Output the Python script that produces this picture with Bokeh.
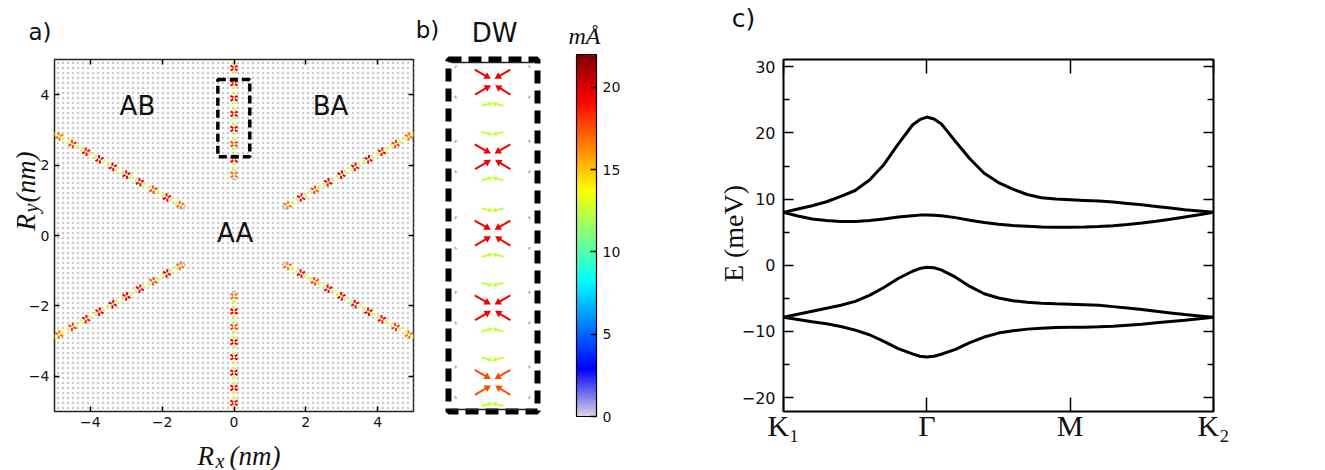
import numpy as np
from bokeh.plotting import figure
from bokeh.layouts import row
from bokeh.models import (ColumnDataSource, LinearColorMapper, ColorBar, Label,
                          BoxAnnotation, LinearAxis, FixedTicker, Range1d)
from bokeh.transform import transform
from bokeh.embed import file_html
from bokeh.resources import INLINE

# ---------------- data: panel c (band structure) ----------------
k_path = [0.0, 0.1, 0.2, 0.3, 0.4, 0.5, 0.6, 0.7, 0.8, 0.9, 0.95, 1.0, 1.05, 1.1, 1.2, 1.3, 1.4,
          1.5, 1.6, 1.7, 1.8, 1.9, 2.0, 2.1, 2.2, 2.3, 2.4, 2.5, 2.6, 2.7, 2.8, 2.9, 3.0]
band_1 = [8.0, 8.5, 9.0, 9.6, 10.4, 11.3, 12.9, 15.2, 18.3, 21.2, 22.0, 22.4, 22.1, 21.4, 18.7, 16.1, 13.9,
          12.5, 11.5, 10.7, 10.2, 10.0, 9.9, 9.8, 9.7, 9.55, 9.35, 9.15, 8.9, 8.65, 8.4, 8.2, 8.0]
band_2 = [8.0, 7.45, 7.0, 6.75, 6.6, 6.62, 6.75, 7.0, 7.3, 7.5, 7.58, 7.6, 7.57, 7.5, 7.2, 6.8, 6.45,
          6.2, 6.0, 5.9, 5.8, 5.75, 5.75, 5.78, 5.85, 5.98, 6.15, 6.38, 6.65, 6.95, 7.3, 7.65, 8.0]
band_3 = [-7.85, -7.4, -6.95, -6.5, -6.05, -5.45, -4.55, -3.35, -2.0, -0.9, -0.5, -0.3, -0.38, -0.7, -1.8, -3.2, -4.3,
          -4.95, -5.35, -5.6, -5.75, -5.82, -5.88, -5.95, -6.05, -6.25, -6.45, -6.7, -6.95, -7.2, -7.45, -7.65, -7.85]
band_4 = [-7.85, -8.2, -8.55, -8.85, -9.25, -9.8, -10.5, -11.5, -12.6, -13.4, -13.75, -13.85, -13.75, -13.45, -12.7, -11.7, -10.85,
          -10.25, -9.9, -9.65, -9.5, -9.42, -9.38, -9.35, -9.3, -9.2, -9.05, -8.9, -8.7, -8.5, -8.3, -8.08, -7.85]
k_ticks = [0, 1, 2, 3]
k_labels = ["K\u2081", "\u0393", "M", "K\u2082"]
e_ticks = [-20, -10, 0, 10, 20, 30]
e_minor_ticks = [-15, -5, 5, 15, 25]

# ---------------- data: panels a/b (current field along domain walls) ----------------
wall_angle_deg = [30, 90, 150, 210, 270, 330]
cross_dist = [1.73, 2.16, 2.60, 3.03, 3.46, 3.90, 4.33, 4.76, 5.20, 5.63]
cross_mag = [16.8, 19.3, 17.6, 19.5, 19.5, 19.5, 19.5, 19.0, 18.0, 16.8]
chev_out_mag = [12.6, 12.5, 12.5, 12.5, 12.5, 12.5, 12.5, 12.8, 13.3, 13.8]
chev_in_mag = [0.5, 12.6, 12.5, 12.5, 12.5, 12.5, 12.5, 12.5, 13.0, 13.5]
gray_mag = 0.5
# arrow motif of one vortex pair (u across the wall, v along the wall, nm)
cross_u0 = [-0.100, 0.100, -0.098, 0.100]
cross_v0 = [0.068, 0.068, -0.075, -0.075]
cross_u1 = [-0.020, 0.022, -0.019, 0.025]
cross_v1 = [0.022, 0.022, -0.028, -0.028]
chev_offset = 0.132
chev_u0 = [-0.062, 0.062]
chev_v0 = [0.008, 0.008]
chev_u1 = [-0.008, 0.008]
chev_v1 = [-0.006, -0.006]
gray_u0 = [-0.212, 0.212, -0.212, 0.212]
gray_v0 = [0.078, 0.078, -0.083, -0.083]
gray_u1 = [-0.198, 0.198, -0.198, 0.198]
gray_v1 = [0.098, 0.098, -0.103, -0.103]
map_range = [-5, 5]
map_ticks = [-4, -2, 0, 2, 4]
highlight_box = [-0.45, 0.44, 2.24, 4.43]   # left, right, bottom, top (nm)
dw_xlim = [-0.23, 0.23]
dw_ylim = [2.44, 4.44]
cbar_range = [0, 22]
cbar_ticks = [0, 5, 10, 15, 20]


# ---------------- colormap: jet with grey bottom ----------------
def make_palette(n=256):
    anchors = [(0.0, (214, 214, 222)), (0.13, (0, 0, 255)), (0.375, (0, 255, 255)),
               (0.625, (255, 255, 0)), (0.875, (255, 0, 0)), (1.0, (128, 0, 0))]
    out = []
    for i in range(n):
        t = i / (n - 1)
        for (t0, c0), (t1, c1) in zip(anchors[:-1], anchors[1:]):
            if t0 <= t <= t1:
                f = (t - t0) / (t1 - t0)
                c = [int(round(a + (b - a) * f)) for a, b in zip(c0, c1)]
                out.append("#%02x%02x%02x" % tuple(c))
                break
    return out


palette = make_palette()
mapper = LinearColorMapper(palette=palette, low=cbar_range[0], high=cbar_range[1])


def build_field(angles):
    cols = dict(x0=[], y0=[], x1=[], y1=[], mag=[], kind=[])

    def add(cx, cy, nx, ny, dx, dy, u0, v0, u1, v1, m, kind):
        cols["x0"].append(cx + u0 * nx + v0 * dx)
        cols["y0"].append(cy + u0 * ny + v0 * dy)
        cols["x1"].append(cx + u1 * nx + v1 * dx)
        cols["y1"].append(cy + u1 * ny + v1 * dy)
        cols["mag"].append(m)
        cols["kind"].append(kind)

    for th_deg in angles:
        th = np.deg2rad(th_deg)
        dx, dy = np.cos(th), np.sin(th)
        nx, ny = np.sin(th), -np.cos(th)
        for i, d in enumerate(cross_dist):
            cx, cy = d * dx, d * dy
            for j in range(4):
                add(cx, cy, nx, ny, dx, dy, cross_u0[j], cross_v0[j], cross_u1[j], cross_v1[j],
                    cross_mag[i], "cross")
                add(cx, cy, nx, ny, dx, dy, gray_u0[j], gray_v0[j], gray_u1[j], gray_v1[j],
                    gray_mag, "gray")
            for j in range(2):
                add(cx, cy, nx, ny, dx, dy, chev_u0[j], chev_offset + chev_v0[j],
                    chev_u1[j], chev_offset + chev_v1[j], chev_out_mag[i], "chev")
                add(cx, cy, nx, ny, dx, dy, chev_u0[j], -chev_offset - chev_v0[j],
                    chev_u1[j], -chev_offset - chev_v1[j], chev_in_mag[i], "chev")
    return {k: np.array(v) for k, v in cols.items()}


SANS = "DejaVu Sans"
SERIF = "Liberation Serif"


def style_axis(ax, ticks, tick_in, minor_ticks=None, minor_in=0, size="14px", hide=False,
               font=SANS, standoff=5, overrides=None):
    ax.ticker = FixedTicker(ticks=ticks, minor_ticks=minor_ticks or [])
    ax.axis_line_color = None
    ax.major_tick_in = tick_in
    ax.major_tick_out = 0
    ax.major_tick_line_color = "black"
    ax.major_tick_line_width = 1.5
    ax.minor_tick_in = minor_in
    ax.minor_tick_out = 0
    ax.minor_tick_line_color = "black" if minor_in else None
    ax.minor_tick_line_width = 1.5
    ax.major_label_text_font = font
    ax.major_label_text_color = "#111111"
    ax.major_label_text_font_size = size
    ax.major_label_standoff = standoff
    if hide:
        ax.major_label_overrides = {t: "" for t in ticks}
    elif overrides:
        ax.major_label_overrides = overrides
    ax.axis_label = None


def add_text(p, x, y, text, size, font=SANS, style="normal", align="center", baseline="middle",
             angle=0, xo=0, yo=0):
    p.add_layout(Label(x=x, y=y, text=text, text_font=font, text_font_size=size,
                       text_font_style=style, text_align=align, text_baseline=baseline,
                       angle=angle, x_offset=xo, y_offset=yo, text_color="#111111"))


# ================= panel a =================
pa = figure(width=440, height=470, x_range=Range1d(*map_range), y_range=Range1d(*map_range),
            output_backend="svg", toolbar_location=None,
            min_border_left=54, min_border_right=27, min_border_top=59, min_border_bottom=53)
pa.grid.visible = False
pa.outline_line_color = "#222222"
pa.outline_line_width = 1.5
pa.add_layout(LinearAxis(), "above")
pa.add_layout(LinearAxis(), "right")
style_axis(pa.below[0], map_ticks, 5)
style_axis(pa.left[0], map_ticks, 5)
style_axis(pa.above[0], map_ticks, 5, hide=True)
style_axis(pa.right[0], map_ticks, 5, hide=True)

pa.add_layout(BoxAnnotation(level="underlay", fill_color=None, line_color=None,
                            hatch_pattern="dot", hatch_color="#c8c8c8", hatch_scale=5,
                            hatch_weight=2.2))

fa = build_field(wall_angle_deg)
sel = fa["kind"] != "gray"
src_a = ColumnDataSource({k: v[sel] for k, v in fa.items()})
pa.segment("x0", "y0", "x1", "y1", source=src_a, line_width=2,
           line_color=transform("mag", mapper))

pa.add_layout(BoxAnnotation(left=highlight_box[0], right=highlight_box[1],
                            bottom=highlight_box[2], top=highlight_box[3],
                            fill_color=None, fill_alpha=0, line_color="black", line_alpha=1,
                            line_width=3.5, line_dash="8 4"))

add_text(pa, -2.69, 3.69, "AB", "26px")
add_text(pa, 2.69, 3.69, "BA", "26px")
add_text(pa, 0.03, 0.08, "AA", "26px")

# ================= panel b =================
px_per_nm = 178.3
pb = figure(width=280, height=470,
            x_range=Range1d(dw_xlim[0] - 3 / px_per_nm, dw_xlim[1] + 4 / px_per_nm),
            y_range=Range1d(dw_ylim[0] - 2 / px_per_nm, dw_ylim[1] + 3 / px_per_nm),
            x_axis_type=None, y_axis_type=None,
            output_backend="svg", toolbar_location=None,
            min_border_left=8, min_border_right=183, min_border_top=56, min_border_bottom=53)
pb.grid.visible = False
pb.outline_line_color = "black"
pb.outline_line_width = 6
pb.outline_line_dash = "13 7"

fb = build_field([90])
inside = ((fb["y0"] >= dw_ylim[0]) & (fb["y0"] <= dw_ylim[1]) &
          (fb["y1"] >= dw_ylim[0]) & (fb["y1"] <= dw_ylim[1]))
fb = {k: v[inside] for k, v in fb.items()}
ux = fb["x1"] - fb["x0"]
uy = fb["y1"] - fb["y0"]
ln = np.hypot(ux, uy)
back = np.where(fb["kind"] == "cross", 0.012, 0.006)
fb["hx"] = fb["x1"] - back * ux / ln
fb["hy"] = fb["y1"] - back * uy / ln
fb["ang"] = np.arctan2(uy, ux) - np.pi / 2
fb["hsize"] = np.where(fb["kind"] == "cross", 7.5, 5.0)
src_b = ColumnDataSource(fb)
pb.segment("x0", "y0", "hx", "hy", source=src_b, line_width=2,
           line_color=transform("mag", mapper))
heads = {k: v[fb["kind"] != "gray"] for k, v in fb.items()}
pb.scatter("hx", "hy", source=ColumnDataSource(heads), marker="triangle", size="hsize",
           angle="ang", line_color=None, fill_color=transform("mag", mapper))
pb.segment(x0=[dw_xlim[0], dw_xlim[0]], y0=[dw_ylim[1], dw_ylim[0]],
           x1=[dw_xlim[1], dw_xlim[1]], y1=[dw_ylim[1], dw_ylim[0]],
           line_color="#222222", line_width=1.5)

cb = ColorBar(color_mapper=mapper, ticker=FixedTicker(ticks=cbar_ticks), width=20, height=362,
              location=(39, -5), margin=0, padding=0, major_tick_in=6, major_tick_out=0,
              major_tick_line_color="black", major_tick_line_width=1.5,
              minor_tick_line_color=None, label_standoff=6,
              major_label_text_font=SANS, major_label_text_font_size="14px",
              major_label_text_color="#111111",
              bar_line_color="black", bar_line_width=1.2, border_line_color=None,
              background_fill_color=None)
pb.add_layout(cb, "right")

# ================= panel c =================
pc = figure(width=605, height=470, x_range=Range1d(0, 3), y_range=Range1d(-22.1, 31.1),
            output_backend="svg", toolbar_location=None,
            min_border_left=63, min_border_right=112, min_border_top=56, min_border_bottom=59)
pc.grid.visible = False
pc.outline_line_color = "black"
pc.outline_line_width = 2
pc.add_layout(LinearAxis(), "above")
pc.add_layout(LinearAxis(), "right")
style_axis(pc.below[0], k_ticks, 14, size="30px", font=SERIF, standoff=-3,
           overrides={t: l for t, l in zip(k_ticks, k_labels)})
style_axis(pc.above[0], k_ticks, 14, hide=True)
style_axis(pc.left[0], e_ticks, 10, minor_ticks=e_minor_ticks, minor_in=6, size="16px", standoff=8)
style_axis(pc.right[0], e_ticks, 10, minor_ticks=e_minor_ticks, minor_in=6, hide=True)

for band in (band_1, band_2, band_3, band_4):
    pc.line(k_path, band, line_color="black", line_width=3)

panels = row(pa, pb, pc, spacing=0)

# ================= page-level text layer (labels that sit outside the plot frames) =================
pt = figure(width=1325, height=470, x_range=Range1d(0, 1325), y_range=Range1d(470, 0),
            x_axis_type=None, y_axis_type=None, output_backend="svg", toolbar_location=None,
            title=None,
            min_border_left=0, min_border_right=0, min_border_top=0, min_border_bottom=0,
            styles={"position": "absolute", "left": "0px", "top": "0px"})
pt.grid.visible = False
pt.outline_line_color = None
pt.background_fill_alpha = 0
pt.border_fill_alpha = 0

add_text(pt, 28, 31, "a)", "23px", align="left")
add_text(pt, 427, 29, "b)", "23px")
add_text(pt, 494, 32, "DW", "26px")
add_text(pt, 584, 35, "m\u00c5", "24px", font=SERIF, style="italic")
add_text(pt, 743, 18, "c)", "25px")
add_text(pt, 733, 233, "E (meV)", "28px", font=SERIF, angle=np.pi / 2)
# R_x(nm)
add_text(pt, 197, 455, "R", "27px", font=SERIF, style="italic", align="left", baseline="alphabetic")
add_text(pt, 197, 455, "x", "20px", font=SERIF, style="italic", align="left", baseline="alphabetic", xo=18, yo=-5)
add_text(pt, 197, 455, "(nm)", "27px", font=SERIF, style="italic", align="left", baseline="alphabetic", xo=32)
# R_y(nm)
add_text(pt, 25, 230, "R", "27px", font=SERIF, style="italic", align="left", baseline="alphabetic", angle=np.pi / 2)
add_text(pt, 25, 230, "y", "20px", font=SERIF, style="italic", align="left", baseline="alphabetic", angle=np.pi / 2, xo=5, yo=18)
add_text(pt, 25, 230, "(nm)", "27px", font=SERIF, style="italic", align="left", baseline="alphabetic", angle=np.pi / 2, yo=28)

open("out.html", "w").write(file_html([panels, pt], INLINE))
